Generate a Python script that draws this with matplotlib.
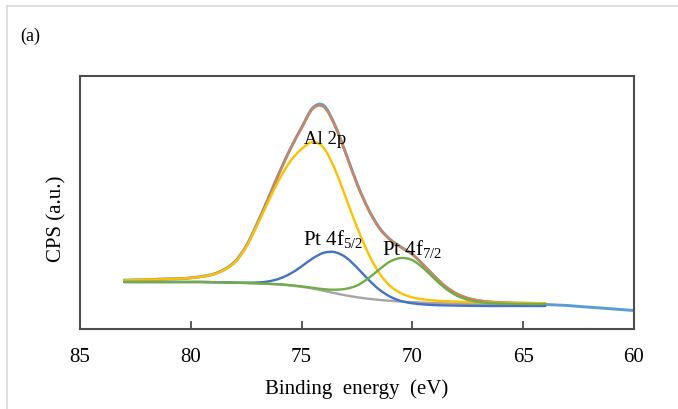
import numpy as np
import matplotlib
matplotlib.use("Agg")
import matplotlib.pyplot as plt
from matplotlib.lines import Line2D
from matplotlib.path import Path
from matplotlib.patches import PathPatch

plt.rcParams['font.family'] = ['Liberation Serif', 'DejaVu Serif']
plt.rcParams['mathtext.fontset'] = 'custom'
plt.rcParams['mathtext.rm'] = 'Liberation Serif'

# binding energy grid of the fitted curves (eV)
energy = [83.0, 82.5, 82.0, 81.5, 81.0, 80.5, 80.0, 79.5, 79.0, 78.5,
          78.0, 77.5, 77.0, 76.5, 76.0, 75.5, 75.0, 74.5, 74.0, 73.5,
          73.0, 72.5, 72.0, 71.5, 71.0, 70.5, 70.0, 69.5, 69.0, 68.5,
          68.0, 67.5, 67.0, 66.5, 66.0, 65.5, 65.0, 64.5, 64.0]

# raw spectrum runs a bit further, down to 60 eV
energy_raw = energy + [63.5, 63.0, 62.5, 62.0, 61.5, 61.0, 60.5, 60.0]

raw = [48.9, 49.1, 49.2, 49.8, 50.1, 50.3, 51.2, 52.6, 54.8, 59.4,
       67.6, 83.0, 105.8, 131.0, 156.8, 180.6, 201.5, 221.0, 223.5, 204.0,
       175.5, 145.5, 120.5, 101.5, 89.5, 81.8, 74.6, 64.0, 52.4, 42.3,
       35.0, 30.6, 28.2, 26.9, 26.2, 25.7, 25.3, 24.9, 24.5,
       24.0, 23.5, 22.6, 21.8, 21.0, 20.2, 19.3, 18.5]

envelope = [48.7, 49.0, 49.3, 49.6, 50.0, 50.4, 51.0, 52.3, 54.5, 59.0,
            67.0, 82.3, 104.9, 130.1, 156.1, 180.2, 200.8, 220.0, 222.0, 203.3,
            175.0, 145.0, 120.0, 101.0, 89.0, 81.5, 74.5, 64.3, 52.8, 42.6,
            35.4, 31.0, 28.6, 27.4, 26.7, 26.3, 26.1, 25.9, 25.8]

background = [47.0, 47.0, 47.0, 47.0, 47.0, 47.0, 47.0, 47.0, 46.8, 46.6,
              46.3, 46.0, 45.6, 45.1, 44.5, 43.5, 42.2, 40.5, 38.2, 35.8,
              33.6, 31.8, 30.3, 29.1, 28.2, 27.4, 26.8, 26.3, 25.9, 25.6,
              25.4, 25.2, 25.1, 25.0, 25.0, 25.0, 25.0, 25.0, 25.0]

al_2p = [48.7, 49.0, 49.3, 49.6, 50.0, 50.4, 51.0, 52.3, 54.5, 59.0,
         67.0, 82.0, 104.0, 127.5, 150.0, 168.0, 180.0, 187.0, 181.0, 160.0,
         131.0, 102.0, 76.0, 56.0, 43.0, 35.6, 31.6, 29.6, 28.5, 27.8,
         27.4, 27.0, 26.7, 26.4, 26.2, 26.1, 26.0, 25.9, 25.8]

pt_4f52 = [47.0, 47.0, 47.0, 47.0, 47.0, 47.0, 47.0, 47.0, 46.8, 46.6,
           46.3, 46.3, 46.5, 47.6, 50.4, 55.4, 62.6, 70.6, 76.2, 76.8,
           71.6, 61.4, 49.7, 39.5, 32.3, 27.9, 25.7, 24.6, 23.9, 23.6,
           23.4, 23.2, 23.1, 23.0, 23.0, 23.0, 23.0, 23.0, 23.0]

pt_4f72 = [47.0, 47.0, 47.0, 47.0, 47.0, 47.0, 47.0, 47.0, 46.8, 46.6,
           46.3, 46.0, 45.6, 45.2, 44.7, 43.8, 42.6, 41.2, 39.8, 39.3,
           40.2, 43.5, 50.5, 59.5, 67.6, 71.0, 68.8, 60.7, 50.2, 40.4,
           33.4, 29.2, 27.0, 26.0, 25.5, 25.2, 25.1, 25.0, 25.0]

xticks = [85, 80, 75, 70, 65, 60]


def smooth_line(ax, x, y, **kw):
    # Excel-style smoothed line: cubic Bezier segments through the points
    pts = np.column_stack([np.asarray(x, float), np.asarray(y, float)])
    ext = np.vstack([pts[0], pts, pts[-1]])
    verts = [pts[0]]
    codes = [Path.MOVETO]
    for i in range(len(pts) - 1):
        p0, p1, p2, p3 = ext[i], ext[i + 1], ext[i + 2], ext[i + 3]
        verts += [p1 + (p2 - p0) / 6, p2 - (p3 - p1) / 6, p2]
        codes += [Path.CURVE4] * 3
    ax.add_patch(PathPatch(Path(verts, codes), fill=False,
                           capstyle='round', joinstyle='round', **kw))


fig = plt.figure(figsize=(6.78, 4.10), dpi=100)
ax = fig.add_axes([80 / 678, 1 - 330 / 410, 554 / 678, 253 / 410])

lw = 1.7
smooth_line(ax, energy_raw, raw, color='#5B9BD5', lw=lw + 0.4)
smooth_line(ax, energy, envelope, color='#D0845A', lw=lw)
smooth_line(ax, energy, background, color='#A5A5A5', lw=lw)
smooth_line(ax, energy, al_2p, color='#FFC000', lw=lw)
smooth_line(ax, energy, pt_4f52, color='#4472C4', lw=lw)
smooth_line(ax, energy, pt_4f72, color='#70AD47', lw=lw)

ax.set_xlim(85, 60)
ax.set_ylim(0, 253)
ax.set_xticks(xticks)
ax.set_yticks([])
ax.tick_params(axis='x', direction='in', length=6, width=1.2,
               color='#404040', labelsize=15, pad=13)
for s in ax.spines.values():
    s.set_color('#4D4D4D')
    s.set_linewidth(1.5)

ax.set_xlabel('Binding  energy  (eV)', fontsize=15, labelpad=9)
ax.set_ylabel('CPS (a.u.)', fontsize=15)
ax.yaxis.set_label_coords(-0.024, 0.44)

ax.text(73.95, 190, 'Al 2p', fontsize=13.5, ha='center', va='center')
ax.text(73.6, 90, r'Pt 4f$_{\mathrm{5/2}}$', fontsize=15, ha='center', va='center')
ax.text(70.0, 80, r'Pt 4f$_{\mathrm{7/2}}$', fontsize=15, ha='center', va='center')

fig.text(20 / 678, 1 - 36 / 410, '(a)', fontsize=13, va='center')

# light grey frame around the panel
fig.add_artist(Line2D([7 / 678, 7 / 678], [0, 1 - 7 / 410], color='#D9D9D9', lw=1.2))
fig.add_artist(Line2D([7 / 678, 1], [1 - 7 / 410, 1 - 7 / 410], color='#D9D9D9', lw=1.2))

fig.savefig('out.png', dpi=100)
